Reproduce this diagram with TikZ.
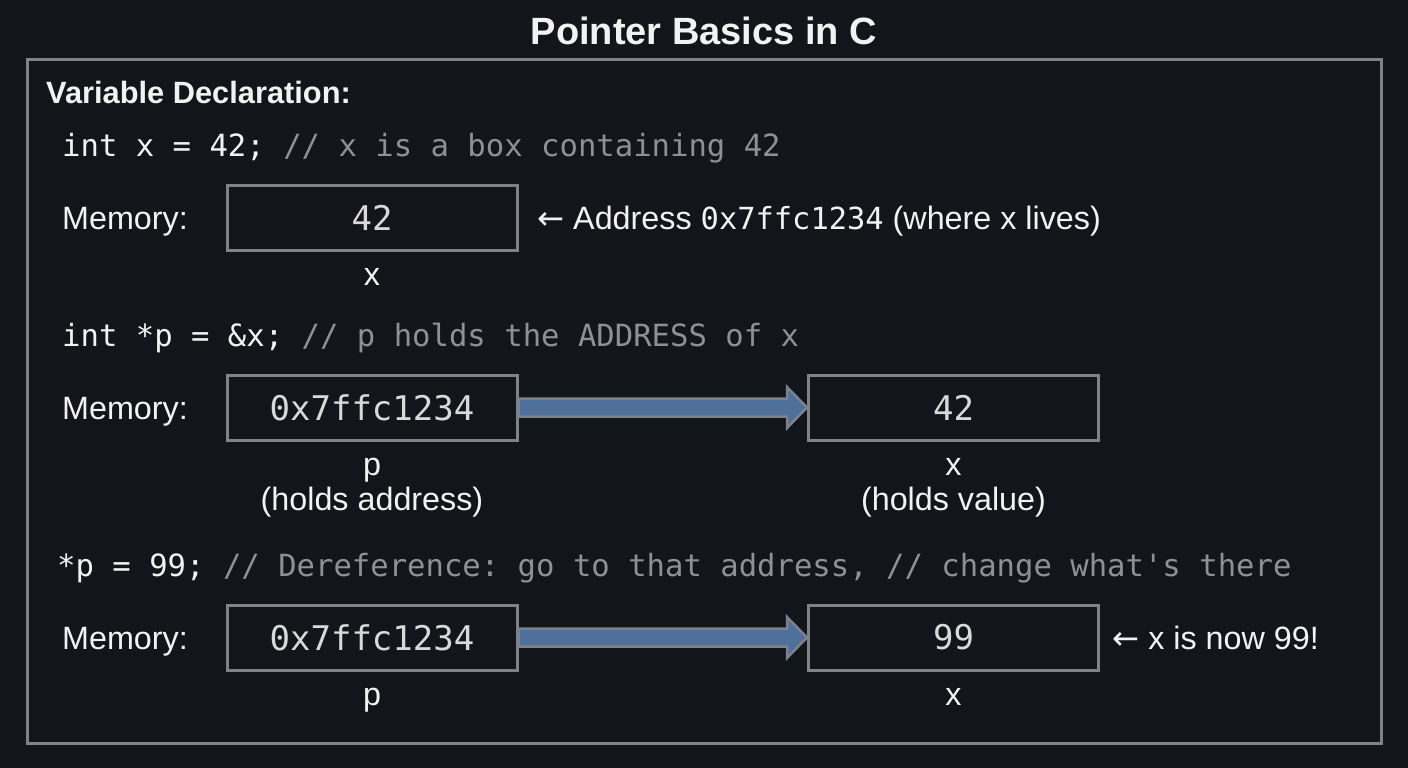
\documentclass[tikz,border=0pt]{standalone}
\usepackage{fontspec}
\setmainfont{Liberation Sans}
\setmonofont{DejaVu Sans Mono}
\newfontfamily\arrowfont{DejaVu Sans}
\usetikzlibrary{calc}
\definecolor{bg}{HTML}{121519}
\definecolor{txt}{HTML}{F2F2F2}
\definecolor{cmt}{HTML}{8E9094}
\definecolor{boxtxt}{HTML}{D9D9D9}
\definecolor{framec}{HTML}{7F8388}
\definecolor{arrfill}{HTML}{50709C}
\definecolor{arrline}{HTML}{7C828B}
\newcommand{\cmtxt}[1]{\textcolor{cmt}{#1}}
\newcommand{\larr}{{\arrowfont ←}}
\tikzset{
  titletext/.style={text=txt, font=\fontsize{38}{44}\selectfont\bfseries, inner sep=0pt},
  headtext/.style={text=txt, font=\fontsize{30.8}{36}\selectfont\bfseries, inner sep=0pt},
  codetext/.style={text=txt, font=\fontsize{30.6}{36}\selectfont\ttfamily, inner sep=0pt},
  labeltext/.style={text=txt, font=\fontsize{32.3}{38}\selectfont, inner sep=0pt},
  membox/.style={draw=framec, line width=3pt, minimum width=290pt, minimum height=65pt, inner sep=0pt,
    text=boxtxt, font=\fontsize{34}{40}\selectfont\ttfamily},
  ptrarrow/.style={fill=arrfill, draw=arrline, line width=2.5pt, line join=miter},
}
\begin{document}
\begin{tikzpicture}[x=1pt,y=-1pt]
\useasboundingbox[fill=bg] (0,0) rectangle (1408,768);
\draw[framec, line width=3pt] (27,60) rectangle (1381,743);

\node[titletext, anchor=base] (title) at (704,45) {Pointer Basics in C};
\node[headtext, anchor=base west] (decl) at (46,103) {Variable Declaration:};

% Row 1
\node[codetext, anchor=base west] (code1) at (62,156) {int x = 42; \cmtxt{// x is a box containing 42}};
\node[labeltext, anchor=base west] (mem1) at (62,229) {Memory:};
\node[membox] (x1) at (372,217.5) {42};
\node[labeltext, anchor=mid] (x1lab) at (372,283) {x};
\node[labeltext, anchor=base west] (addr) at (537,229) {\larr\ Address {\fontsize{30.4}{36}\selectfont\ttfamily 0x7ffc1234} (where x lives)};

% Row 2
\node[codetext, anchor=base west] (code2) at (62,346) {int *p = \&x; \cmtxt{// p holds the ADDRESS of x}};
\node[labeltext, anchor=base west] (mem2) at (62,419) {Memory:};
\node[membox] (p2) at (372,407.5) {0x7ffc1234};
\node[membox] (x2) at (953.5,407.5) {42};
\node[labeltext, anchor=mid] (p2lab) at (372,473) {p};
\node[labeltext, anchor=mid] (p2sub) at (372,508) {(holds address)};
\node[labeltext, anchor=mid] (x2lab) at (953.5,473) {x};
\node[labeltext, anchor=mid] (x2sub) at (953.5,508) {(holds value)};
\draw[ptrarrow] ($(p2.east)+(0,-9)$) -- ($(x2.west)+(-20,-9)$) -- ($(x2.west)+(-20,-20.5)$) -- (x2.west)
  -- ($(x2.west)+(-20,20.5)$) -- ($(x2.west)+(-20,9)$) -- ($(p2.east)+(0,9)$) -- cycle;

% Row 3
\node[codetext, anchor=base west] (code3) at (57,576) {*p = 99; \cmtxt{// Dereference: go to that address, // change what's there}};
\node[labeltext, anchor=base west] (mem3) at (62,649) {Memory:};
\node[membox] (p3) at (372,637.5) {0x7ffc1234};
\node[membox] (x3) at (953.5,637.5) {99};
\node[labeltext, anchor=mid] (p3lab) at (372,703) {p};
\node[labeltext, anchor=mid] (x3lab) at (953.5,703) {x};
\node[labeltext, anchor=base west] (now) at (1112,649) {\larr\ x is now 99!};
\draw[ptrarrow] ($(p3.east)+(0,-9)$) -- ($(x3.west)+(-20,-9)$) -- ($(x3.west)+(-20,-20.5)$) -- (x3.west)
  -- ($(x3.west)+(-20,20.5)$) -- ($(x3.west)+(-20,9)$) -- ($(p3.east)+(0,9)$) -- cycle;
\end{tikzpicture}
\end{document}
